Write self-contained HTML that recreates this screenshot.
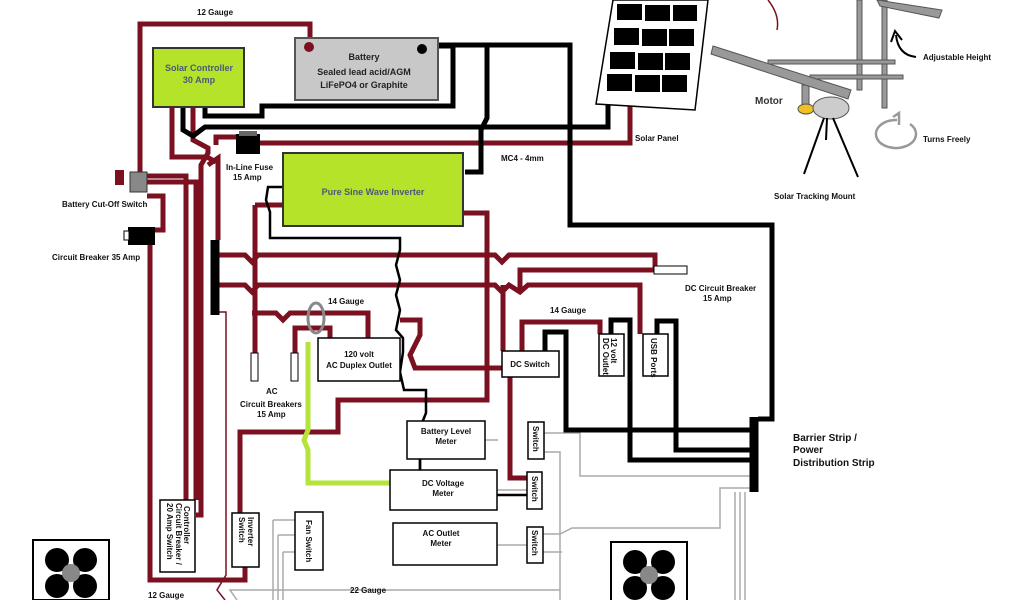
<!DOCTYPE html>
<html><head><meta charset="utf-8"><style>
html,body{margin:0;padding:0;background:#fff;}
svg{display:block;font-family:"Liberation Sans",sans-serif;font-weight:bold;}
</style></head><body>
<svg width="1024" height="600" viewBox="0 0 1024 600" xmlns="http://www.w3.org/2000/svg">
<defs><g id="fan"><rect x="0" y="0" width="76" height="60" fill="#fff" stroke="#000" stroke-width="2"/>
<circle cx="24" cy="20" r="12" fill="#000"/><circle cx="52" cy="20" r="12" fill="#000"/><circle cx="24" cy="46" r="12" fill="#000"/><circle cx="52" cy="46" r="12" fill="#000"/><circle cx="38" cy="33" r="9" fill="#888"/></g></defs>
<g fill="none" stroke-linejoin="miter">
<g stroke="#aaa" stroke-width="1.5">
<polyline points="544,433 580,433 580,476 750,476"/>
<polyline points="544,452 560,452 560,600"/>
<polyline points="543,534 560,534 572,528 720,528 720,488 750,488"/>
<polyline points="543,552 562,552"/>
<polyline points="237,600 230,590 560,590"/>
<polyline points="273,520 295,520"/><polyline points="278,535 295,535"/><polyline points="283,552 295,552"/>
<polyline points="273,520 273,600"/><polyline points="278,535 278,600"/><polyline points="283,552 283,600"/>
<polyline points="735,492 735,600"/><polyline points="740,492 740,600"/><polyline points="745,492 745,600"/>
<polyline points="447,440 498,440"/><polyline points="497,490 527,490"/><polyline points="497,545 527,545"/>
</g>
<g stroke="#7a1020" stroke-width="1.5"><polyline points="219,312 226,312 226,575 217,590 225,600"/></g>
<g stroke="#7a1020" stroke-width="5">
<polyline points="140,172 140,24 310,24 310,45"/>
<polyline points="147,176 186,176 186,503"/>
<polyline points="147,182 196,182 196,500"/>
<polyline points="147,196 163,196 163,230 155,230"/>
<polyline points="150,245 150,580 245,580 245,567"/>
<polyline points="172,107 172,157 207,157 216,162"/>
<polyline points="193,107 193,140 208,148 208,153 201,165 201,515 196,515"/>
<polyline points="208,165 218,158 218,240"/>
<polyline points="216,145 216,137 236,137"/>
<polyline points="260,143 630,143 630,105"/>
<polyline points="219,255 245,255 252,262 258,255 495,255 502,262 509,255 655,255 655,270"/>
<polyline points="219,285 245,285 252,292 258,285 495,285 502,292 509,285 520,292 528,285 640,285 640,334"/>
<polyline points="520,292 520,270 655,270"/>
<polyline points="255,205 255,353"/>
<polyline points="283,205 255,205"/>
<polyline points="463,213 487,213 487,400 338,400 338,432 240,432 240,513"/>
<polyline points="252,313 276,313 283,320 290,313 368,313 368,338"/>
<polyline points="295,353 295,328 330,328 330,338"/>
<polyline points="503,351 503,285"/><polyline points="522,351 522,322 600,322 600,334"/>
<polyline points="400,320 420,320 420,335 410,355 415,368 435,368 510,368 510,478 527,478" />
</g>
<polyline points="308,342 308,430 304,440 308,450 308,483 390,483" stroke="#b4e33a" stroke-width="5"/>
<g stroke="#000" stroke-width="5">
<polyline points="438,45 570,45 570,225 772,225 772,419 758,419"/>
<polyline points="438,46 453,46 453,106 262,106 262,116 205,116 205,107"/>
<polyline points="183,107 183,130 193,136 205,127 608,127 608,105"/>
<polyline points="487,45 487,118 481,130 481,172 465,172"/>
<polyline points="283,187 268,187 266,200 270,212 270,238 400,238 400,250 396,265 400,280 396,295 400,310 396,330 403,338 403,352 400,372 404,390 426,390 426,413 420,428 425,440 420,455 420,478" stroke-width="2.5"/>
<polyline points="420,455 420,495 527,495" stroke-width="2.5"/>
<polyline points="545,351 545,332 566,332 566,430 750,430"/>
<polyline points="611,334 611,320 630,320 630,460 750,460"/>
<polyline points="657,334 657,321 676,321 676,450 750,450"/>
</g>
<line x1="754" y1="417" x2="754" y2="492" stroke="#000" stroke-width="9"/>
<line x1="215" y1="240" x2="215" y2="315" stroke="#000" stroke-width="9"/>
<path d="M768,0 Q780,15 777,30" stroke="#7a1020" stroke-width="1.5"/>
</g>
<rect x="153" y="48" width="91" height="59" fill="#b5e32a" stroke="#333" stroke-width="2"/>
<text x="199" y="71" font-size="9" fill="#4a5a7a" text-anchor="middle">Solar Controller</text>
<text x="199" y="83" font-size="9" fill="#4a5a7a" text-anchor="middle">30 Amp</text>
<rect x="295" y="38" width="143" height="62" fill="#c8c8c8" stroke="#555" stroke-width="2"/>
<circle cx="309" cy="47" r="5" fill="#7a1020"/><circle cx="422" cy="49" r="5" fill="#000"/>
<text x="364" y="60" font-size="9" text-anchor="middle" fill="#222">Battery</text>
<text x="364" y="75" font-size="9" text-anchor="middle" fill="#222">Sealed lead acid/AGM</text>
<text x="364" y="88" font-size="9" text-anchor="middle" fill="#222">LiFePO4 or Graphite</text>
<rect x="283" y="153" width="180" height="73" fill="#b5e32a" stroke="#333" stroke-width="2"/>
<text x="373" y="195" font-size="9" fill="#4a5a7a" text-anchor="middle">Pure Sine Wave Inverter</text>
<rect x="236" y="134" width="24" height="20" fill="#000"/><rect x="239" y="131" width="18" height="5" fill="#666"/>
<rect x="130" y="172" width="17" height="20" fill="#888" stroke="#333"/><rect x="115" y="170" width="9" height="15" fill="#7a1020"/>
<rect x="128" y="227" width="27" height="18" fill="#000"/><rect x="124" y="231" width="5" height="9" fill="#fff" stroke="#000"/>
<rect x="654" y="266" width="33" height="8" fill="#fff" stroke="#000"/>
<rect x="251" y="353" width="7" height="28" fill="#fff" stroke="#000"/>
<rect x="291" y="353" width="7" height="28" fill="#fff" stroke="#000"/>
<ellipse cx="316" cy="318" rx="8" ry="15" fill="none" stroke="#888" stroke-width="3"/>
<g fill="#fff" stroke="#000" stroke-width="1.5">
<rect x="318" y="338" width="82" height="43"/>
<rect x="502" y="351" width="57" height="26"/>
<rect x="599" y="334" width="25" height="42"/>
<rect x="643" y="334" width="25" height="42"/>
<rect x="407" y="421" width="78" height="38"/>
<rect x="390" y="470" width="107" height="40"/>
<rect x="393" y="523" width="104" height="42"/>
<rect x="528" y="422" width="16" height="37"/>
<rect x="527" y="472" width="15" height="37"/>
<rect x="527" y="527" width="16" height="36"/>
<rect x="232" y="513" width="27" height="54"/>
<rect x="295" y="512" width="28" height="58"/>
<rect x="160" y="500" width="35" height="72"/>
</g>
<use href="#fan" x="33" y="540"/><use href="#fan" x="611" y="542"/>
<polygon points="613,0 708,0 695,110 596,104" fill="#fff" stroke="#000" stroke-width="1.5"/>
<g fill="#000">
<rect x="617" y="4" width="25" height="16"/><rect x="645" y="5" width="25" height="16"/><rect x="673" y="5" width="24" height="16"/>
<rect x="614" y="28" width="25" height="17"/><rect x="642" y="29" width="25" height="17"/><rect x="669" y="29" width="25" height="17"/>
<rect x="610" y="52" width="25" height="17"/><rect x="638" y="53" width="25" height="17"/><rect x="665" y="53" width="25" height="17"/>
<rect x="607" y="74" width="25" height="17"/><rect x="635" y="75" width="25" height="17"/><rect x="662" y="75" width="25" height="17"/>
</g>
<g stroke="#555" fill="#999">
<rect x="857" y="0" width="5" height="90"/><rect x="882" y="0" width="5" height="108"/>
<rect x="768" y="60" width="127" height="4"/><rect x="810" y="75" width="93" height="4"/>
<rect x="802" y="85" width="7" height="20"/>
<polygon points="713,46 851,90 848,99 711,54"/>
<polygon points="877,0 942,10 939,18 880,6"/>
</g>
<ellipse cx="806" cy="109" rx="8" ry="5" fill="#f0c020" stroke="#555"/>
<ellipse cx="831" cy="108" rx="18" ry="11" fill="#ccc" stroke="#555"/>
<g stroke="#000" stroke-width="2" fill="none">
<line x1="824" y1="118" x2="804" y2="174"/><line x1="833" y1="118" x2="858" y2="177"/><line x1="827" y1="118" x2="826" y2="140"/>
<path d="M916,57 Q898,55 896,35"/><path d="M891,42 L895,31 L902,40"/>
</g>
<path d="M897,120 A20,14 0 1 0 910,124" fill="none" stroke="#999" stroke-width="2.5"/>
<path d="M893,117 L899,113 L899,125" fill="none" stroke="#999" stroke-width="2.5"/>
<g font-size="8" fill="#111">
<text x="197" y="15">12 Gauge</text>
<text x="226" y="170">In-Line Fuse</text><text x="233" y="180">15 Amp</text>
<text x="62" y="207">Battery Cut-Off Switch</text>
<text x="52" y="260">Circuit Breaker  35 Amp</text>
<text x="501" y="161">MC4 - 4mm</text>
<text x="635" y="141">Solar Panel</text>
<text x="755" y="104" font-size="10" fill="#333">Motor</text>
<text x="923" y="60">Adjustable Height</text>
<text x="923" y="142">Turns Freely</text>
<text x="774" y="199">Solar Tracking Mount</text>
<text x="685" y="291">DC Circuit Breaker</text><text x="703" y="301">15 Amp</text>
<text x="328" y="304">14 Gauge</text><text x="550" y="313">14 Gauge</text>
<text x="266" y="394">AC</text><text x="240" y="407">Circuit Breakers</text><text x="257" y="417">15 Amp</text>
<text x="359" y="357" text-anchor="middle">120 volt</text><text x="359" y="368" text-anchor="middle">AC Duplex Outlet</text>
<text x="530" y="367" text-anchor="middle">DC Switch</text>
<text x="446" y="434" text-anchor="middle">Battery Level</text><text x="446" y="444" text-anchor="middle">Meter</text>
<text x="443" y="486" text-anchor="middle">DC Voltage</text><text x="443" y="496" text-anchor="middle">Meter</text>
<text x="441" y="536" text-anchor="middle">AC Outlet</text><text x="441" y="546" text-anchor="middle">Meter</text>
<text x="793" y="441" font-size="10">Barrier Strip /</text><text x="793" y="453" font-size="10">Power</text><text x="793" y="466" font-size="10">Distribution Strip</text>
<text x="350" y="593">22 Gauge</text><text x="148" y="598">12 Gauge</text>
<text transform="translate(611,338) rotate(90)">12 volt</text>
<text transform="translate(603,338) rotate(90)">DC Outlet</text>
<text transform="translate(651,338) rotate(90)">USB Ports</text>
<text transform="translate(533,426) rotate(90)">Switch</text>
<text transform="translate(532,476) rotate(90)">Switch</text>
<text transform="translate(532,530) rotate(90)">Switch</text>
<text transform="translate(248,517) rotate(90)">Inverter</text><text transform="translate(239,517) rotate(90)">Switch</text>
<text transform="translate(306,520) rotate(90)">Fan Switch</text>
<text transform="translate(184,506) rotate(90)">Controller</text>
<text transform="translate(176,503) rotate(90)">Circuit Breaker /</text>
<text transform="translate(167,503) rotate(90)">20 Amp Switch</text>
</g>
</svg>
</body></html>
